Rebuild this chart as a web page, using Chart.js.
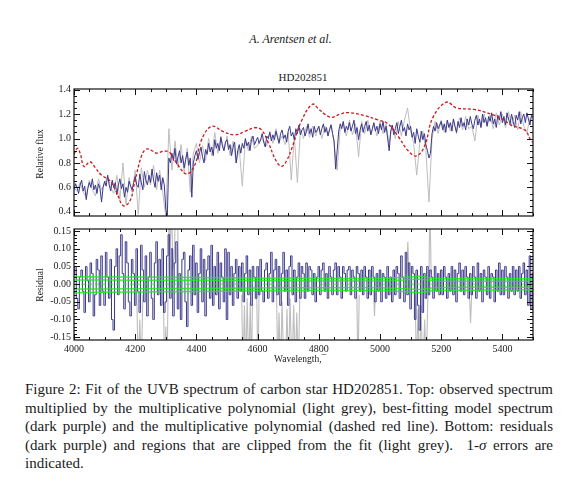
<!DOCTYPE html>
<html>
<head>
<meta charset="utf-8">
<script src="https://cdn.jsdelivr.net/npm/chart.js@4.4.1/dist/chart.umd.min.js"></script>
<style>
  body { margin: 0; background: #fff; width: 581px; height: 488px; position: relative; overflow: hidden;
         font-family: "Liberation Serif", "Times New Roman", serif; color: #1a1a1a; }
  .abs { position: absolute; }
  #header { left: 0; width: 581px; top: 32px; text-align: center; font-size: 12px; line-height: 14px; font-style: italic; }
  #title { left: 203px; width: 200px; top: 71px; text-align: center; font-size: 11px; line-height: 13px; }
  .ytitle { width: 100px; height: 12px; line-height: 12px; font-size: 9.5px; text-align: center; transform: rotate(-90deg); }
  #xtitle { left: 274px; top: 353px; font-size: 9.5px; line-height: 12px; }
  #caption { left: 25px; width: 528px; top: 380px; font-size: 15px; line-height: 18.5px; }
  #caption div { white-space: nowrap; text-align: justify; text-align-last: justify; }
  #caption div.last { text-align-last: left; }
</style>
</head>
<body>
<div class="abs" id="header">A. Arentsen et al.</div>
<div class="abs" id="title">HD202851</div>
<canvas id="fluxChart" class="abs" width="581" height="145" style="left:0;top:80px"></canvas>
<canvas id="residChart" class="abs" width="581" height="145" style="left:0;top:220px"></canvas>
<div class="abs ytitle" style="left:-10px;top:148px">Relative flux</div>
<div class="abs ytitle" style="left:-10px;top:279px">Residual</div>
<div class="abs" id="xtitle">Wavelength,&#175;</div>
<div class="abs" id="caption">
  <div>Figure 2: Fit of the UVB spectrum of carbon star HD202851. Top: observed spectrum</div>
  <div>multiplied by the multiplicative polynomial (light grey), best-fitting model spectrum</div>
  <div>(dark purple) and the multiplicative polynomial (dashed red line). Bottom: residuals</div>
  <div>(dark purple) and regions that are clipped from the fit (light grey).&nbsp; 1-<i>&sigma;</i> errors are</div>
  <div class="last">indicated.</div>
</div>

<script>
// ===== Data =====

// model spectrum and residuals: 4000 A to 5500 A, 5 A step
const fineStart = 4000;
const fineStep = 5;
// observed spectrum: 4000 A to 5500 A, 10 A step
const coarseStart = 4000;
const coarseStep = 10;

// best-fitting model spectrum (dark purple)
const modelFlux = [
    0.58, 0.63, 0.60, 0.55, 0.62, 0.66, 0.57, 0.61, 0.50, 0.59,
    0.64, 0.60, 0.67, 0.58, 0.62, 0.55, 0.63, 0.59, 0.48, 0.60,
    0.65, 0.61, 0.70, 0.62, 0.57, 0.66, 0.60, 0.64, 0.54, 0.62,
    0.67, 0.59, 0.63, 0.52, 0.60, 0.56, 0.65, 0.61, 0.58, 0.64,
    0.69, 0.62, 0.60, 0.71, 0.64, 0.58, 0.73, 0.66, 0.62, 0.70,
    0.64, 0.75, 0.66, 0.60, 0.72, 0.65, 0.70, 0.58, 0.68, 0.62,
    0.42, 0.37, 0.84, 0.80, 0.88, 0.82, 0.92, 0.79, 0.85, 0.90,
    0.80, 0.86, 0.76, 0.83, 0.89, 0.78, 0.84, 0.52, 0.80, 0.86,
    0.90, 0.83, 0.88, 0.93, 0.85, 0.80, 0.91, 0.87, 0.96, 0.89,
    0.93, 0.86, 0.99, 0.92, 0.96, 0.90, 1.01, 0.94, 0.90, 0.97,
    0.99, 0.91, 0.95, 0.86, 0.93, 0.97, 0.80, 0.90, 0.95, 0.88,
    0.96, 0.92, 1.00, 0.94, 0.97, 0.90, 0.99, 1.02, 0.95, 0.98,
    1.01, 0.96, 0.99, 1.04, 0.97, 0.93, 1.02, 1.00, 1.05, 0.98,
    1.03, 0.99, 1.06, 1.01, 0.96, 1.04, 1.07, 1.00, 1.03, 0.97,
    1.06, 1.10, 1.02, 1.05, 0.99, 1.08, 1.04, 1.11, 1.03, 1.07,
    1.09, 1.02, 1.06, 1.12, 1.04, 1.08, 1.01, 1.10, 1.05, 1.07,
    1.10, 1.03, 1.08, 1.12, 1.05, 1.09, 1.02, 1.07, 1.11, 1.04,
    0.98, 0.75, 0.90, 1.06, 1.12, 1.08, 1.14, 1.05, 1.10, 1.07,
    1.13, 1.06, 1.10, 1.15, 1.04, 1.09, 0.99, 1.07, 1.12, 1.05,
    1.10, 1.14, 1.06, 1.11, 1.03, 1.08, 1.13, 1.06, 1.10, 1.04,
    1.12, 1.07, 1.14, 1.05, 1.10, 1.00, 0.90, 1.06, 1.11, 1.03,
    1.08, 1.13, 1.04, 1.10, 1.15, 1.06, 1.09, 1.02, 1.12, 1.07,
    1.10, 1.01, 1.05, 0.96, 1.08, 1.02, 0.97, 1.06, 0.99, 1.04,
    0.95, 0.90, 0.84, 0.88, 1.04, 1.10, 1.06, 1.13, 1.08, 1.11,
    1.14, 1.07, 1.12, 1.05, 1.15, 1.09, 1.13, 1.06, 1.16, 1.10,
    1.05, 1.14, 1.09, 1.17, 1.10, 1.13, 1.07, 1.16, 1.11, 1.18,
    1.12, 1.08, 1.15, 1.19, 1.11, 1.16, 1.09, 1.20, 1.13, 1.17,
    1.10, 1.18, 1.14, 1.21, 1.12, 1.16, 1.09, 1.19, 1.15, 1.22,
    1.13, 1.18, 1.11, 1.21, 1.16, 1.12, 1.20, 1.14, 1.09, 1.19,
    1.15, 1.22, 1.12, 1.17, 1.20, 1.13, 1.21, 1.16, 1.11, 1.19,
    1.17
];

// observed spectrum x multiplicative polynomial (light grey)
const observedFlux = [
    0.60, 0.57, 0.64, 0.56, 0.52, 0.66, 0.58, 0.53, 0.67, 0.58,
    0.63, 0.69, 0.60, 0.55, 0.70, 0.50, 0.80, 0.46, 0.68, 0.56,
    0.74, 0.38, 0.76, 0.60, 0.74, 0.62, 0.78, 0.58, 0.74, 0.56,
    0.36, 1.08, 0.74, 0.98, 0.76, 0.95, 0.72, 0.92, 0.56, 0.88,
    0.96, 0.80, 0.94, 0.82, 1.00, 0.86, 1.05, 0.88, 1.02, 0.90,
    1.02, 0.86, 0.98, 0.80, 0.92, 0.61, 0.99, 0.90, 1.02, 0.92,
    0.94, 1.00, 0.98, 0.94, 1.06, 0.96, 1.08, 0.97, 1.02, 0.95,
    1.05, 0.66, 1.02, 0.64, 1.08, 1.00, 1.10, 1.01, 1.10, 1.02,
    1.10, 1.00, 1.10, 1.03, 1.12, 0.96, 0.74, 1.08, 1.13, 1.02,
    1.15, 1.03, 1.12, 0.85, 1.14, 1.04, 1.15, 1.03, 1.12, 1.02,
    1.14, 1.04, 1.12, 0.96, 1.11, 1.00, 1.14, 1.02, 1.15, 1.25,
    1.06, 0.96, 0.70, 0.96, 1.06, 0.90, 0.48, 1.00, 1.14, 1.04,
    1.15, 1.05, 1.15, 1.06, 1.16, 1.04, 1.17, 1.07, 1.18, 1.08,
    1.10, 0.98, 1.19, 1.09, 1.20, 1.10, 1.19, 1.08, 1.21, 1.11,
    1.20, 1.09, 1.22, 1.11, 1.19, 1.07, 1.22, 1.10, 1.05, 1.16,
    1.20
];

// multiplicative polynomial (dashed red)
const polyWave = [
    4000, 4011, 4020, 4033, 4052, 4070, 4090, 4117, 4139, 4161,
    4183, 4199, 4221, 4237, 4255, 4270, 4290, 4303, 4314, 4335,
    4368, 4395, 4417, 4450, 4488, 4526, 4560, 4591, 4613, 4635,
    4660, 4678, 4695, 4711, 4744, 4779, 4800, 4820, 4842, 4870,
    4897, 4951, 4993, 5026, 5059, 5092, 5119, 5146, 5173, 5217,
    5250, 5310, 5364, 5400, 5429, 5473, 5494, 5500
];
const polyFlux = [
    0.87, 0.92, 0.88, 0.77, 0.81, 0.76, 0.70, 0.656, 0.56, 0.45,
    0.49, 0.65, 0.86, 0.914, 0.90, 0.88, 0.895, 0.896, 0.883, 0.80,
    0.71, 0.785, 0.99, 1.10, 1.056, 1.03, 1.06, 1.088, 1.07, 0.966,
    0.82, 0.772, 0.82, 0.914, 1.147, 1.28, 1.24, 1.198, 1.173, 1.20,
    1.212, 1.186, 1.152, 1.12, 1.018, 0.90, 0.857, 0.94, 1.173, 1.297,
    1.25, 1.237, 1.198, 1.16, 1.108, 1.069, 0.98, 0.97
];

// residuals of the fit (dark purple), same grid as modelFlux
const residual = [
    0.03, 0.05, -0.04, -0.07, 0.02, 0.04, -0.02, -0.08, 0.05, 0.01,
    -0.05, 0.06, 0.03, -0.09, -0.03, 0.07, 0.04, -0.06, 0.08, -0.02,
    -0.06, 0.09, 0.02, -0.04, 0.07, -0.10, -0.13, 0.05, 0.10, -0.03,
    0.08, 0.14, 0.03, -0.07, 0.12, 0.06, -0.05, -0.09, 0.07, 0.03,
    -0.06, 0.10, -0.02, -0.08, 0.11, 0.04, -0.05, 0.08, -0.09, 0.02,
    0.09, -0.04, -0.10, 0.06, 0.12, -0.03, 0.07, -0.06, 0.10, -0.08,
    -0.05, 0.08, 0.14, -0.04, 0.10, -0.09, 0.06, 0.12, -0.07, 0.03,
    -0.10, 0.07, 0.09, -0.05, -0.12, 0.04, 0.08, -0.06, 0.11, -0.03,
    0.06, -0.08, 0.03, 0.10, -0.05, 0.07, -0.09, 0.04, 0.08, -0.04,
    0.11, -0.06, 0.05, -0.03, 0.09, -0.07, 0.06, 0.02, -0.05, 0.10,
    -0.10, 0.09, -0.03, 0.05, -0.06, 0.03, 0.07, -0.04, 0.05, -0.02,
    0.06, -0.05, 0.03, 0.08, -0.03, 0.04, -0.06, 0.05, 0.02, -0.04,
    0.05, -0.03, 0.07, -0.02, -0.05, 0.04, 0.06, -0.04, 0.03, 0.09,
    -0.05, 0.04, 0.07, -0.03, 0.05, -0.06, 0.03, 0.09, -0.02, 0.04,
    -0.06, 0.05, 0.08, -0.03, 0.04, -0.05, 0.02, 0.06, -0.04, 0.05,
    0.03, -0.04, 0.06, -0.02, 0.05, 0.04, -0.03, 0.03, -0.05, 0.02,
    0.05, -0.03, 0.04, 0.06, -0.02, 0.03, -0.04, 0.05, 0.02, -0.03,
    0.04, 0.06, -0.03, 0.05, 0.02, -0.04, 0.05, 0.03, -0.02, 0.04,
    0.05, -0.03, 0.04, 0.02, -0.04, 0.05, 0.03, -0.02, 0.04, -0.03,
    0.05, 0.02, -0.04, 0.04, -0.03, 0.05, 0.02, -0.05, 0.03, -0.02,
    0.04, -0.05, 0.03, 0.02, -0.04, 0.05, -0.03, 0.02, -0.05, 0.04,
    -0.03, 0.05, 0.03, -0.04, 0.08, 0.02, -0.05, 0.09, -0.03, 0.06,
    -0.07, 0.05, 0.03, -0.10, 0.04, -0.06, -0.13, 0.05, -0.08, 0.03,
    -0.04, 0.05, -0.03, 0.04, 0.02, -0.04, 0.05, -0.02, 0.03, -0.03,
    0.04, -0.03, 0.05, 0.02, -0.04, 0.03, -0.02, 0.05, -0.03, 0.04,
    -0.05, 0.03, 0.06, -0.02, 0.04, -0.03, 0.05, 0.02, -0.04, 0.03,
    -0.03, 0.05, 0.02, -0.04, 0.06, -0.02, 0.03, -0.05, 0.04, 0.02,
    -0.03, 0.05, -0.04, 0.03, 0.02, -0.05, 0.04, -0.02, 0.06, -0.03,
    0.04, -0.03, 0.05, 0.02, -0.04, 0.03, -0.02, 0.05, -0.03, 0.04,
    -0.02, 0.05, -0.04, 0.03, 0.06, -0.03, 0.04, -0.06, 0.08, -0.07,
    0.03
];

// regions clipped from the fit (light grey); null breaks the line
const clipWave = [
    4205, 4210, 4215, 4220, 4225, 4227,
    4292, 4296, 4300, 4304, 4308, 4311, 4315, 4319, 4323, 4328, 4332, 4337, 4342, 4344,
    4548, 4552, 4557, 4561, 4566, 4571, 4576, 4580, 4584, 4586,
    4597, 4601, 4605, 4607,
    4662, 4666, 4670, 4675, 4680, 4686, 4691, 4696, 4701, 4706, 4712, 4718, 4723, 4728, 4733, 4738, 4740,
    4924, 4928, 4932, 4934,
    4979, 4982, 4985, 4987,
    5087, 5091, 5095, 5097,
    5115, 5119, 5124, 5129, 5134, 5140, 5146, 5151, 5156, 5160, 5163, 5167, 5169,
    5292, 5296, 5300
];
const clipResid = [
    -0.02, -0.25, -0.10, -0.25, -0.03, null,
    -0.02, -0.25, -0.12, -0.25, 0.02, 0.25, 0.10, 0.25, 0.04, 0.08, 0.25, 0.25, 0.03, null,
    -0.03, -0.25, -0.06, -0.25, -0.04, -0.25, -0.05, -0.25, 0.00, null,
    -0.02, -0.25, -0.01, null,
    -0.03, -0.25, -0.08, -0.25, -0.05, -0.25, -0.25, -0.07, -0.25, -0.04, -0.25, -0.06, -0.25, -0.08, -0.25, -0.03, null,
    -0.02, -0.25, -0.03, null,
    -0.02, -0.09, -0.02, null,
    0.03, 0.12, 0.02, null,
    -0.03, -0.25, -0.07, -0.25, -0.06, -0.25, -0.10, -0.25, -0.05, 0.02, 0.25, 0.03, null,
    -0.02, -0.11, -0.02
];

// 1-sigma errors (green)
const errWave    = [4000, 4200, 4400, 4600, 4800, 5000, 5080, 5130, 5180, 5300, 5500];
const errOuterHi = [0.021, 0.020, 0.019, 0.017, 0.016, 0.016, 0.019, 0.022, 0.016, 0.015, 0.015];
const errInnerHi = [0.012, 0.011, 0.011, 0.010, 0.009, 0.009, 0.012, 0.014, 0.009, 0.008, 0.008];
const errInnerLo = [-0.014, -0.013, -0.012, -0.011, -0.010, -0.010, -0.013, -0.015, -0.010, -0.009, -0.009];
const errOuterLo = [-0.024, -0.022, -0.021, -0.019, -0.018, -0.018, -0.021, -0.024, -0.018, -0.017, -0.016];
const errZero    = [0, 0, 0, 0, 0, 0, 0, 0, 0, 0, 0];

// tick labels
const waveTicks = [4000, 4200, 4400, 4600, 4800, 5000, 5200, 5400];
const fluxTicks = [0.4, 0.6, 0.8, 1.0, 1.2, 1.4];
const residTicks = [-0.15, -0.10, -0.05, 0.00, 0.05, 0.10, 0.15];

// ===== Helpers =====

const PURPLE = '#3b3889';
const GREY = '#bdbdbd';
const RED = '#cc1a1a';
const GREEN = 'rgba(30, 235, 30, 0.85)';

function onGrid(values, start, step) {
    return values.map((v, i) => ({ x: start + step * i, y: v }));
}

function pairs(xs, ys) {
    return xs.map((x, i) => ({ x: x, y: ys[i] }));
}

// IDL-style frame with inward major/minor ticks on all four sides
const idlFrame = {
    id: 'idlFrame',
    afterDatasetsDraw(chart, args, opts) {
        const { ctx, chartArea: a, scales: { x, y } } = chart;
        ctx.save();
        ctx.strokeStyle = '#111';
        ctx.lineWidth = 1;
        ctx.beginPath();
        for (let k = Math.ceil(x.min / opts.xMinor); k * opts.xMinor <= x.max; k++) {
            const v = k * opts.xMinor;
            const px = Math.round(x.getPixelForValue(v)) + 0.5;
            const len = (v % opts.xMajor === 0) ? 6 : 3;
            ctx.moveTo(px, a.bottom); ctx.lineTo(px, a.bottom - len);
            ctx.moveTo(px, a.top); ctx.lineTo(px, a.top + len);
        }
        for (let k = Math.ceil(y.min / opts.yMinor - 1e-6); k * opts.yMinor <= y.max + 1e-9; k++) {
            const v = k * opts.yMinor;
            const py = Math.round(y.getPixelForValue(v)) + 0.5;
            const major = opts.yMajor.some(t => Math.abs(t - v) < 1e-6);
            const len = major ? 6 : 3;
            ctx.moveTo(a.left, py); ctx.lineTo(a.left + len, py);
            ctx.moveTo(a.right, py); ctx.lineTo(a.right - len, py);
        }
        ctx.stroke();
        ctx.lineWidth = 1.2;
        ctx.strokeRect(a.left, a.top, a.right - a.left, a.bottom - a.top);
        ctx.restore();
    }
};

const tickFont = { family: '"Liberation Serif", "Times New Roman", serif', size: 10 };

function yScale(min, max, ticks, digits) {
    return {
        type: 'linear',
        min: min,
        max: max,
        afterBuildTicks: s => { s.ticks = ticks.map(v => ({ value: v })); },
        afterFit: s => { s.width = 74; },
        grid: { display: false, drawTicks: false },
        border: { display: false },
        ticks: {
            padding: 3,
            color: '#222',
            font: tickFont,
            callback: v => Number(v).toFixed(digits)
        }
    };
}

function lineSet(data, color, width, order, extra) {
    return Object.assign({
        data: data,
        borderColor: color,
        borderWidth: width,
        pointRadius: 0,
        fill: false,
        order: order
    }, extra || {});
}

// ===== Top: spectrum =====

new Chart(document.getElementById('fluxChart'), {
    type: 'line',
    data: {
        datasets: [
            lineSet(pairs(polyWave, polyFlux), RED, 1.3, 0, { borderDash: [3, 2], tension: 0.4 }),
            lineSet(onGrid(modelFlux, fineStart, fineStep), PURPLE, 1, 1),
            lineSet(onGrid(observedFlux, coarseStart, coarseStep), GREY, 1, 2)
        ]
    },
    options: {
        responsive: false,
        animation: false,
        layout: { padding: { top: 8, right: 48, bottom: 4, left: 0 } },
        scales: {
            x: { type: 'linear', min: 4000, max: 5500, display: false },
            y: yScale(0.366, 1.405, fluxTicks, 1)
        },
        plugins: {
            legend: { display: false },
            tooltip: { enabled: false },
            idlFrame: { xMinor: 50, xMajor: 200, yMinor: 0.05, yMajor: fluxTicks }
        }
    },
    plugins: [idlFrame]
});

// ===== Bottom: residuals =====

new Chart(document.getElementById('residChart'), {
    type: 'line',
    data: {
        datasets: [
            lineSet(pairs(errWave, errOuterHi), GREEN, 1.5, 0, { tension: 0.3 }),
            lineSet(pairs(errWave, errInnerHi), GREEN, 1.5, 0, { tension: 0.3 }),
            lineSet(pairs(errWave, errInnerLo), GREEN, 1.5, 0, { tension: 0.3 }),
            lineSet(pairs(errWave, errOuterLo), GREEN, 1.5, 0, { tension: 0.3 }),
            lineSet(pairs(errWave, errZero), GREEN, 1, 0, { borderDash: [4, 3] }),
            lineSet(onGrid(residual, fineStart, fineStep), PURPLE, 1, 1, { stepped: 'middle' }),
            lineSet(pairs(clipWave, clipResid), GREY, 1.1, 2)
        ]
    },
    options: {
        responsive: false,
        animation: false,
        layout: { padding: { top: 8, right: 48, bottom: 0, left: 0 } },
        scales: {
            x: {
                type: 'linear',
                min: 4000,
                max: 5500,
                afterBuildTicks: s => { s.ticks = waveTicks.map(v => ({ value: v })); },
                afterFit: s => { s.height = 25; },
                grid: { display: false, drawTicks: false },
                border: { display: false },
                ticks: { padding: 3, color: '#222', font: tickFont, maxRotation: 0, callback: v => String(v) }
            },
            y: yScale(-0.158, 0.156, residTicks, 2)
        },
        plugins: {
            legend: { display: false },
            tooltip: { enabled: false },
            idlFrame: { xMinor: 50, xMajor: 200, yMinor: 0.01, yMajor: residTicks }
        }
    },
    plugins: [idlFrame]
});
</script>
</body>
</html>
